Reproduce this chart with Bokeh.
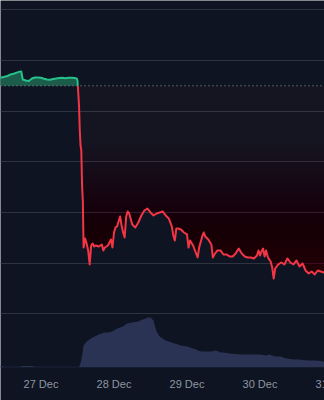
import numpy as np
import pandas as pd
from bokeh.plotting import figure
from bokeh.models import Range1d, FixedTicker, Span
from bokeh.core.properties import value
from bokeh.embed import file_html
from bokeh.resources import INLINE

# ---- data (hours relative to 27 Dec 00:00) ----
price_hours = [-14, -13, -12, -11, -10, -9, -8, -7, -6.5, -6, -5, -4, -3, -2, -1, 0, 1, 2, 3, 4, 5, 6, 7, 8, 9, 10, 11, 11.75, 12,
               12.5, 12.75, 13, 13.25, 13.5, 13.75, 14, 14.5, 15, 15.5, 16, 16.5, 17, 17.5, 18, 19, 20, 20.5, 21, 22, 23, 23.5,
               24, 24.5, 25, 26, 26.5, 27, 27.5, 28, 28.5, 29, 30, 31, 32, 33, 34, 35, 36, 37, 38, 39, 40, 41, 42, 43, 43.5,
               44, 44.5, 45, 46, 47, 48, 48.5, 49, 50, 51, 51.5, 52, 53, 53.5, 54, 55, 56, 56.5, 57, 58, 59, 60, 61, 62, 63,
               64, 65, 66, 67, 68, 69, 70, 71, 71.5, 72, 72.5, 73, 73.5, 74, 74.5, 75, 75.5, 76, 76.5, 77, 78, 79, 80, 81,
               82, 83, 84, 85, 86, 87, 88, 89, 90, 91, 92, 93, 94]
price = [23.27, 23.32, 23.39, 23.47, 23.62, 23.69, 23.80, 23.90, 23.92, 23.12, 23.02, 22.98, 23.22, 23.32, 23.32, 23.29,
         23.19, 23.12, 23.09, 23.17, 23.22, 23.27, 23.29, 23.25, 23.29, 23.29, 23.27, 23.22, 23.02,
         20.56, 18.09, 16.61, 16.12, 12.66, 11.18, 6.54, 7.43, 6.94, 6.25, 4.87, 6.74, 6.94, 6.64, 6.74, 6.64, 6.84, 6.25,
         6.54, 6.74, 7.33, 6.54,
         8.02, 8.52, 8.62, 9.60, 8.71, 8.02, 7.53, 9.60, 10.10, 9.90, 8.81, 8.52, 9.01, 9.70, 10.19, 10.39, 10.00, 9.70,
         9.90, 10.00, 10.10, 9.70, 9.41, 8.62, 7.73,
         7.23, 8.42, 8.42, 8.32, 8.02, 7.83, 6.54, 7.23, 6.74, 5.95, 5.56, 6.54, 7.63, 8.02, 7.63, 7.33, 6.84, 5.56, 5.85,
         6.25, 6.25, 5.85, 5.85, 5.66, 5.66,
         5.95, 6.44, 5.95, 5.66, 5.56, 5.56, 5.46, 5.75, 6.25, 5.75, 6.15, 6.44, 5.66, 6.25, 5.66, 5.36, 5.16, 4.57, 3.48,
         4.47, 4.87, 5.06, 4.87, 5.46,
         5.06, 4.87, 5.26, 4.67, 4.96, 4.27, 3.98, 4.17, 3.88, 4.27, 4.17, 4.08, 4.08]

volume_hours = [-14, -13, -12, -7, -6, -4, -3, -2, 12, 12.5, 13, 13.5, 14, 15, 16, 17, 18, 19, 20, 21, 22, 23, 24, 25, 26,
                27, 28, 29, 30, 31, 32, 33, 34, 35, 36, 37, 37.5, 38, 39, 40, 41, 42, 43, 44, 45, 46, 47, 48, 49, 50, 51,
                52, 53, 54, 55, 56, 57, 58, 59, 60, 62, 64, 66, 68, 70, 72, 74, 75, 76, 77, 79, 80, 81, 83, 85, 86, 88,
                90, 92, 94]
volume = [0.12, 0.12, 0.04, 0.04, 0.12, 0.12, 0.12, 0.04, 0.04, 0.05, 0.37, 1.17, 2.17, 2.57, 2.77, 2.97, 3.12, 3.27,
          3.37, 3.47, 3.47, 3.52, 3.67, 3.87, 3.97,
          4.07, 4.32, 4.42, 4.47, 4.52, 4.57, 4.72, 4.82, 4.97, 4.97, 4.67, 4.07, 3.57, 3.07, 2.87, 2.67, 2.57, 2.47,
          2.37, 2.27, 2.17, 2.12, 2.07, 1.97, 1.87, 1.77,
          1.62, 1.57, 1.57, 1.57, 1.57, 1.67, 1.62, 1.47, 1.47, 1.37, 1.32, 1.27, 1.27, 1.27, 1.27, 1.17, 1.27, 1.17,
          1.07, 1.07, 0.92, 0.87, 0.77, 0.77, 0.72, 0.67,
          0.67, 0.62, 0.47]

baseline_price = 22.5
grid_prices = [0, 5, 10, 15, 20, 25, 30]
tick_days = ["2024-12-27", "2024-12-28", "2024-12-29", "2024-12-30", "2024-12-31"]
tick_labels = ["27 Dec", "28 Dec", "29 Dec", "30 Dec", "31 Dec"]
label_level = -6.9  # price-axis level at which the date labels sit

# ---- helpers ----
T0 = pd.Timestamp("2024-12-27").value // 10**6
HOUR = 3600 * 1000


def to_ms(hours):
    return [T0 + h * HOUR for h in hours]


def split_runs(x, y, base):
    runs = []
    cur = y[0] >= base
    cx, cy = [x[0]], [y[0]]
    for i in range(1, len(x)):
        side = y[i] >= base
        if side != cur:
            f = (base - y[i - 1]) / (y[i] - y[i - 1])
            xc = x[i - 1] + f * (x[i] - x[i - 1])
            cx.append(xc)
            cy.append(base)
            runs.append((cur, cx, cy))
            cx, cy = [xc], [base]
            cur = side
        cx.append(x[i])
        cy.append(y[i])
    runs.append((cur, cx, cy))
    return runs


BG = "#0e1421"
RED = "#f23645"
GREEN = "#26c28a"
LABEL = "#8f96a3"

px = to_ms(price_hours)
runs = split_runs(px, price, baseline_price)
full_x = np.concatenate([np.array(r[1]) for r in runs])
full_y = np.concatenate([np.array(r[2]) for r in runs])

x_start = T0 - 13.315 * HOUR
x_end = T0 + 93.205 * HOUR

p = figure(width=324, height=400, x_axis_type="datetime", output_backend="svg", toolbar_location=None,
           x_range=Range1d(x_start, x_end), y_range=Range1d(-8.56, 30.92),
           x_axis_location=None, y_axis_location=None,
           min_border_left=0, min_border_right=0, min_border_top=0, min_border_bottom=0)
p.background_fill_color = BG
p.border_fill_color = BG
p.outline_line_color = None
p.extra_y_ranges = {"vol": Range1d(-3.33, 36.67)}

p.ygrid.ticker = FixedTicker(ticks=grid_prices)
p.ygrid.grid_line_color = "#2e3340"
p.ygrid.grid_line_width = 1
p.xgrid.visible = False

# red gradient between baseline and price line (stacked translucent layers,
# intensity growing with depth below the baseline)
N = 60
levels = np.linspace(baseline_price, 3.0, N + 1)
depth = (baseline_price - levels) / (baseline_price - 3.5)
target = 0.03 + 0.2 * np.clip(depth, 0, None) ** 2.0
prev = 0.0
for b, A in zip(levels, target):
    a = 1 - (1 - A) / (1 - prev)
    prev = A
    p.varea(x=full_x, y1=np.minimum(full_y, b), y2=np.full(len(full_x), b),
            fill_color=RED, fill_alpha=float(a))

# green fill above baseline
for above, rx, ry in runs:
    if above:
        p.varea(x=rx, y1=[baseline_price] * len(rx), y2=ry, fill_color="#1b5c4a", fill_alpha=1.0)

# volume
p.varea(x=to_ms(volume_hours), y1=[0] * len(volume), y2=volume, fill_color="#2a3354",
        y_range_name="vol")

# baseline dotted line
p.add_layout(Span(location=baseline_price, dimension="width", line_color="#9a9ea8",
                  line_width=1, line_dash="1 3"))

# price line
gx = [r[1] for r in runs if r[0]]
gy = [r[2] for r in runs if r[0]]
rx_ = [r[1] for r in runs if not r[0]]
ry_ = [r[2] for r in runs if not r[0]]
p.multi_line(xs=rx_, ys=ry_, line_color=RED, line_width=2, line_join="round")
p.multi_line(xs=gx, ys=gy, line_color=GREEN, line_width=2, line_join="round")

# date labels along the time scale
p.text(x=[pd.Timestamp(d).value // 10**6 for d in tick_days], y=[label_level] * len(tick_days),
       text=tick_labels, text_align="center", text_baseline="middle", text_color=LABEL,
       text_font=value("Liberation Sans"), text_font_size="11px")

open("out.html", "w").write(file_html(p, INLINE))
